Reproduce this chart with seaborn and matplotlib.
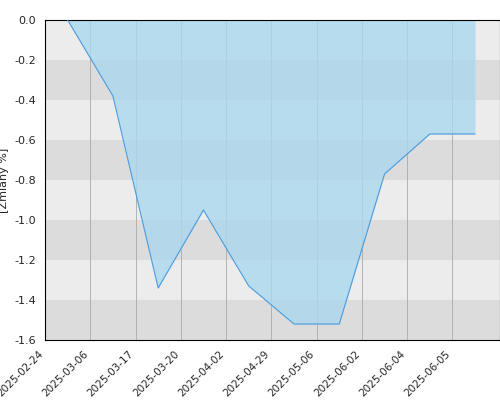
import matplotlib
matplotlib.use("Agg")
import matplotlib.pyplot as plt
import seaborn as sns
import numpy as np

# tick labels (categorical dates) and values
tick_labels = ['2025-02-24', '2025-03-06', '2025-03-17', '2025-03-20', '2025-04-02',
               '2025-04-29', '2025-05-06', '2025-06-02', '2025-06-04', '2025-06-05']
values = [0.0, -0.38, -1.34, -0.95, -1.33, -1.52, -1.52, -0.77, -0.57, -0.57]

sns.set_style("white")
plt.rcParams['font.family'] = ['DejaVu Sans']

fig = plt.figure(figsize=(5, 4), dpi=100)
ax = fig.add_axes([0.09, 0.15, 0.91, 0.80])

# alternating horizontal bands (top band light)
for i in range(8):
    hi = -0.2 * i
    col = '#ececec' if i % 2 == 0 else '#dcdcdc'
    ax.axhspan(hi - 0.2, hi, color=col, zorder=0, lw=0)

x = np.arange(len(values)) + 0.5
ax.fill_between(x, values, 0, color='#aad8ee', alpha=0.8, zorder=2, lw=0)
sns.lineplot(x=x, y=values, ax=ax, color='#4a9be0', lw=0.8, zorder=3)

ax.set_xticks(np.arange(len(tick_labels)))
ax.set_xticklabels(tick_labels, rotation=45, ha='right', fontsize=7.5)
ax.set_xlim(0, 10.05)
ax.set_ylim(-1.6, 0.0)
yt = [round(-0.2 * k, 1) for k in range(8, -1, -1)]
ax.set_yticks(yt)
ax.set_yticklabels([f'{abs(v):.1f}' if v == 0 else f'{v:.1f}' for v in yt], fontsize=8)
ax.set_ylabel('[Zmiany %]', fontsize=8)
for t in range(1, len(tick_labels)):
    ax.axvline(t, color='#aaaaaa', lw=0.6, zorder=1)
for s in ax.spines.values():
    s.set_color('black')
    s.set_linewidth(0.8)
ax.tick_params(axis='both', length=3, color='black')

fig.savefig('out.png', dpi=100)
